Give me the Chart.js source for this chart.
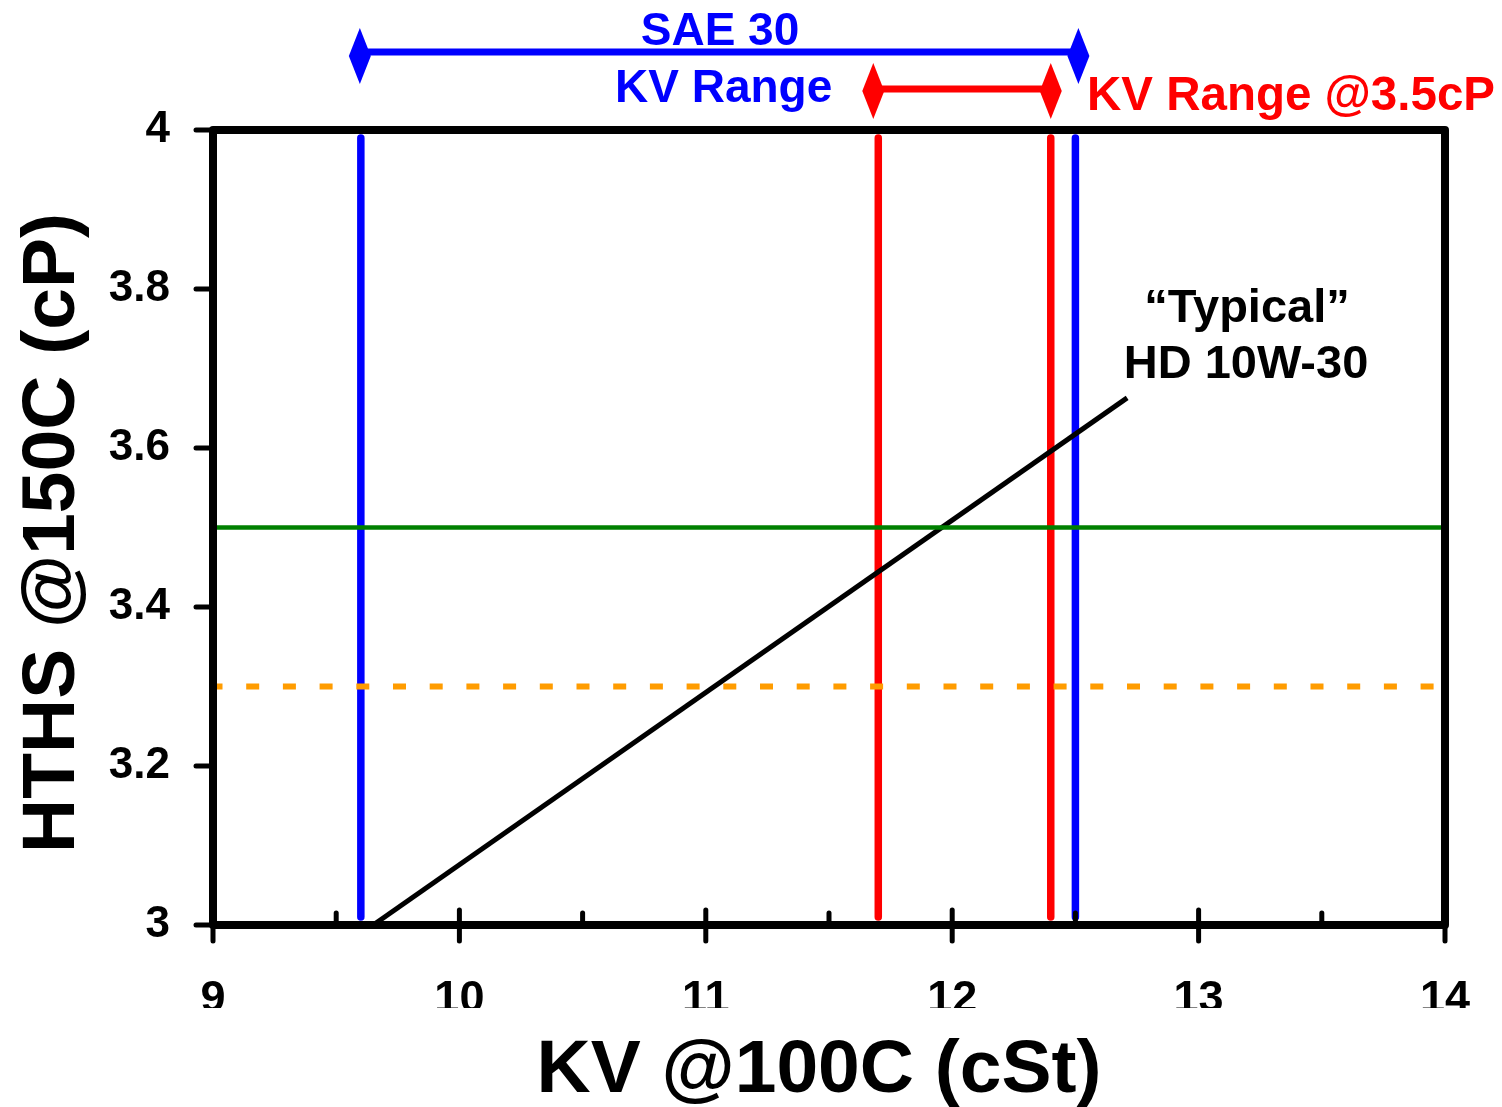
<!DOCTYPE html>
<html>
<head>
<meta charset="utf-8">
<title>HTHS vs KV</title>
<script src="https://cdn.jsdelivr.net/npm/chart.js@4/dist/chart.umd.min.js"></script>
<style>
  html, body { margin: 0; padding: 0; background: #fff; }
  #wrap { width: 1502px; height: 1107px; }
</style>
</head>
<body>
<div id="wrap"><canvas id="c" width="1502" height="1107"></canvas></div>
<script>
// Axis ticks
const xTickValues = [9, 10, 11, 12, 13, 14];
const xMinorValues = [9.5, 10.5, 11.5, 12.5, 13.5];
const yTickValues = [3, 3.2, 3.4, 3.6, 3.8, 4];
const yTickLabels = ['3', '3.2', '3.4', '3.6', '3.8', '4'];

// SAE 30 KV limits (cSt) and the KV window that gives 3.5 cP HTHS
const sae30Range = [9.6, 12.5];
const hthsWindow = [11.7, 12.4];
const limitSpan = [3.01, 3.99];

// "Typical" HD 10W-30 HTHS/KV relationship
const typicalKV = [9.65, 12.71];
const typicalHTHS = [3.0, 3.663];

// HTHS reference levels (cP)
const hthsTarget = 3.5;
const targetSpan = [9, 14];
const hthsMin = 3.3;
const minSpan = [9, 13.96];

const FONT = '"Liberation Sans", Arial, sans-serif';

function vline(xv, color) {
  return {
    data: limitSpan.map(v => ({ x: xv, y: v })),
    borderColor: color, borderWidth: 7.5, borderCapStyle: 'round',
    pointRadius: 0, showLine: true, fill: false
  };
}

const datasets = [
  { // 3.3 cP minimum
    data: minSpan.map(v => ({ x: v, y: hthsMin })),
    borderColor: '#FF9C00', borderWidth: 6, borderDash: [13, 23.7], borderDashOffset: 3.5,
    pointRadius: 0, showLine: true, fill: false
  },
  { // 3.5 cP target
    data: targetSpan.map(v => ({ x: v, y: hthsTarget })),
    borderColor: '#008000', borderWidth: 4.5,
    pointRadius: 0, showLine: true, fill: false
  },
  { // typical 10W-30
    data: typicalKV.map((v, i) => ({ x: v, y: typicalHTHS[i] })),
    borderColor: '#000000', borderWidth: 5,
    pointRadius: 0, showLine: true, fill: false
  },
  vline(hthsWindow[0], '#FF0000'),
  vline(hthsWindow[1], '#FF0000'),
  vline(sae30Range[0], '#0000FF'),
  vline(sae30Range[1], '#0000FF')
];

function diamond(ctx, cx, cy, hw, hh) {
  ctx.beginPath();
  ctx.moveTo(cx - hw, cy);
  ctx.lineTo(cx, cy - hh);
  ctx.lineTo(cx + hw, cy);
  ctx.lineTo(cx, cy + hh);
  ctx.closePath();
  ctx.fill();
}

function rangeArrow(ctx, xs, values, lineY, headY, color, shift) {
  const a = xs.getPixelForValue(values[0]) + shift[0];
  const b = xs.getPixelForValue(values[1]) + shift[1];
  ctx.strokeStyle = color;
  ctx.fillStyle = color;
  ctx.lineWidth = 7;
  ctx.lineCap = 'butt';
  ctx.beginPath();
  ctx.moveTo(a, lineY);
  ctx.lineTo(b, lineY);
  ctx.stroke();
  diamond(ctx, a, headY, 11, 28);
  diamond(ctx, b, headY, 11, 28);
}

const decor = {
  id: 'decor',
  afterDraw(chart) {
    const { ctx, chartArea: a, scales: { x, y } } = chart;
    ctx.save();

    // plot frame
    ctx.strokeStyle = '#000';
    ctx.lineWidth = 8;
    ctx.lineJoin = 'round';
    ctx.strokeRect(a.left, a.top, a.right - a.left, a.bottom - a.top);

    // tick marks
    ctx.lineWidth = 5;
    ctx.lineCap = 'round';
    const seg = (x1, y1, x2, y2) => { ctx.beginPath(); ctx.moveTo(x1, y1); ctx.lineTo(x2, y2); ctx.stroke(); };
    yTickValues.forEach(v => { const py = y.getPixelForValue(v); seg(a.left - 17, py, a.left, py); });
    xTickValues.forEach(v => { const px = x.getPixelForValue(v); seg(px, a.bottom - 15, px, a.bottom + 16); });
    xMinorValues.forEach(v => { const px = x.getPixelForValue(v); seg(px, a.bottom - 12, px, a.bottom); });

    // x tick labels (bottom edge trimmed)
    ctx.save();
    ctx.beginPath();
    ctx.rect(0, a.bottom + 20, chart.width, 1008 - (a.bottom + 20));
    ctx.clip();
    ctx.fillStyle = '#000';
    ctx.font = 'bold 45px ' + FONT;
    ctx.textAlign = 'center';
    ctx.textBaseline = 'alphabetic';
    xTickValues.forEach(v => ctx.fillText(String(v), x.getPixelForValue(v), 1012));
    ctx.restore();

    // axis titles
    ctx.fillStyle = '#000';
    ctx.textAlign = 'center';
    ctx.textBaseline = 'alphabetic';
    ctx.font = 'bold 75px ' + FONT;
    ctx.fillText('KV @100C (cSt)', 819, 1092);
    ctx.save();
    ctx.translate(74, 533);
    ctx.rotate(-Math.PI / 2);
    ctx.font = 'bold 75px ' + FONT;
    ctx.fillText('HTHS @150C (cP)', 0, 0);
    ctx.restore();

    // series note
    ctx.font = 'bold 47px ' + FONT;
    ctx.fillText('\u201CTypical\u201D', 1247, 322);
    ctx.fillText('HD 10W-30', 1246, 378);

    // range arrows and their labels
    rangeArrow(ctx, x, sae30Range, 52, 56, '#0000FF', [-1, 3]);
    rangeArrow(ctx, x, hthsWindow, 89, 91, '#FF0000', [-5, 0]);

    ctx.fillStyle = '#0000FF';
    ctx.font = 'bold 46px ' + FONT;
    ctx.textAlign = 'center';
    ctx.fillText('SAE 30', 720, 45);
    ctx.textAlign = 'left';
    ctx.fillText('KV Range', 615, 102);
    ctx.fillStyle = '#FF0000';
    ctx.font = 'bold 47.5px ' + FONT;
    ctx.fillText('KV Range @3.5cP', 1087, 110);

    ctx.restore();
  }
};

new Chart(document.getElementById('c'), {
  type: 'scatter',
  data: { datasets },
  options: {
    responsive: false,
    animation: false,
    devicePixelRatio: 1,
    layout: { padding: { top: 130, right: 57, left: 0, bottom: 0 } },
    plugins: { legend: { display: false }, tooltip: { enabled: false } },
    scales: {
      x: {
        type: 'linear', min: 9, max: 14,
        afterBuildTicks: s => { s.ticks = xTickValues.map(v => ({ value: v })); },
        afterFit: s => { s.height = 182; },
        grid: { display: false, drawTicks: false },
        border: { display: false },
        ticks: { display: false }
      },
      y: {
        type: 'linear', min: 3, max: 4,
        afterBuildTicks: s => { s.ticks = yTickValues.map(v => ({ value: v })); },
        afterFit: s => { s.width = 213; },
        grid: { display: false, drawTicks: false },
        border: { display: false },
        ticks: {
          padding: 43,
          color: '#000',
          font: { family: FONT, weight: 'bold', size: 44 },
          callback: (v) => yTickLabels[yTickValues.indexOf(v)] ?? String(v)
        }
      }
    }
  },
  plugins: [decor]
});
</script>
</body>
</html>
